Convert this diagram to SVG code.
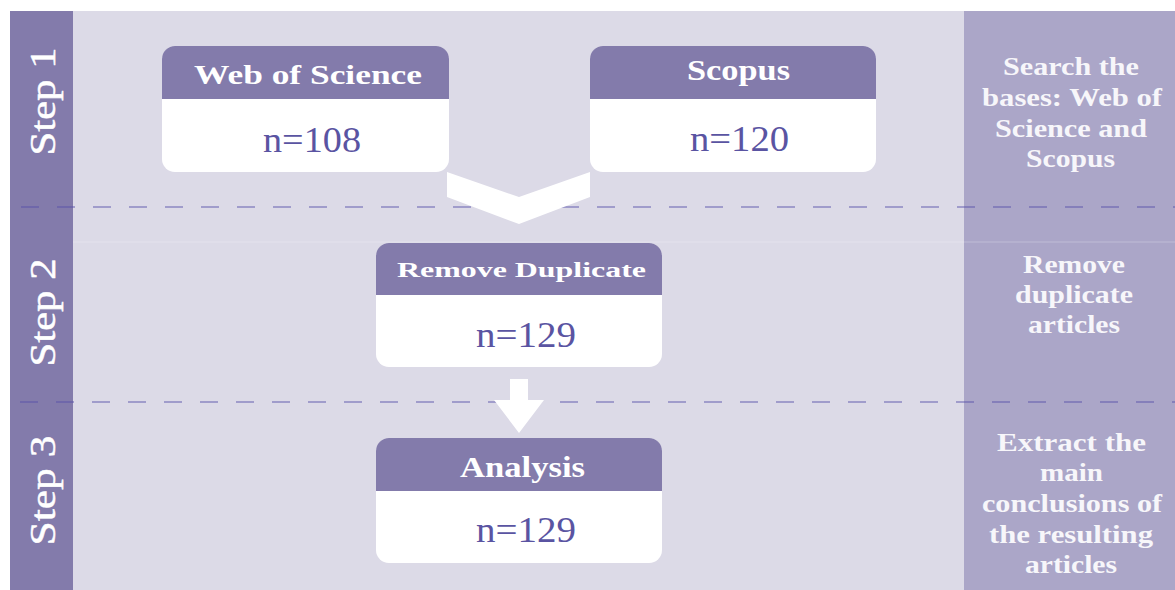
<svg xmlns="http://www.w3.org/2000/svg" width="1175" height="590" viewBox="0 0 1175 590">
<style>
.hdr{fill:#837BAB}
.body{fill:#ffffff}
.ht{font-family:"Liberation Serif",serif;font-weight:bold;fill:#ffffff;text-anchor:middle}
.nt{font-family:"Liberation Serif",serif;font-size:35px;fill:#5A54A2;text-anchor:middle}
.st{font-family:"Liberation Serif",serif;font-size:36px;fill:#ffffff;stroke:#ffffff;stroke-width:0.5;text-anchor:middle}
.rt{font-family:"Liberation Serif",serif;font-weight:bold;font-size:26px;fill:#F7F6FA;text-anchor:middle}
.dash{stroke:#5852AA;stroke-opacity:0.6;stroke-width:1.4;stroke-dasharray:18 18;fill:none}
.arr{fill:#ffffff}
</style>
<g id="background">
<rect x="10" y="11" width="1165" height="579" fill="#DCDAE7"/>
<rect x="10" y="11" width="63" height="579" fill="#837BAB"/>
<rect x="964" y="11" width="211" height="579" fill="#ABA6C8"/>
<line x1="73" y1="242" x2="1175" y2="242" stroke="#ffffff" stroke-opacity="0.25" stroke-width="1"/>
</g>
<g id="step-labels">
<text class="st" transform="translate(55,101.5) rotate(-90)" textLength="108" lengthAdjust="spacingAndGlyphs">Step 1</text>
<text class="st" transform="translate(55,312.5) rotate(-90)" textLength="108" lengthAdjust="spacingAndGlyphs">Step 2</text>
<text class="st" transform="translate(55,490.5) rotate(-90)" textLength="110" lengthAdjust="spacingAndGlyphs">Step 3</text>
</g>
<g id="dividers">
<line class="dash" x1="21" y1="207" x2="1175" y2="207"/>
<line class="dash" x1="20" y1="402" x2="1175" y2="402"/>
</g>
<g id="connectors">
<polygon class="arr" points="447,172 519,197 590,172 590,197 519,224 447,197"/>
<polygon class="arr" points="510,379 528,379 528,400 544,400 519,433 494,400 510,400"/>
</g>
<g id="node-wos">
<rect class="body" x="162" y="46" width="287" height="126" rx="13"/>
<path class="hdr" d="M162,99 V59 A13,13 0 0 1 175,46 H436 A13,13 0 0 1 449,59 V99 Z"/>
<text class="ht" x="308" y="84" font-size="28" textLength="228" lengthAdjust="spacingAndGlyphs">Web of Science</text>
<text class="nt" x="312" y="152" textLength="98" lengthAdjust="spacingAndGlyphs">n=108</text>
</g>
<g id="node-scopus">
<rect class="body" x="590" y="46" width="286" height="126" rx="13"/>
<path class="hdr" d="M590,99 V59 A13,13 0 0 1 603,46 H863 A13,13 0 0 1 876,59 V99 Z"/>
<text class="ht" x="738.5" y="80" font-size="30" textLength="103" lengthAdjust="spacingAndGlyphs">Scopus</text>
<text class="nt" x="739.5" y="151" textLength="99" lengthAdjust="spacingAndGlyphs">n=120</text>
</g>
<g id="node-remove">
<rect class="body" x="376" y="243" width="286" height="124" rx="13"/>
<path class="hdr" d="M376,295 V256 A13,13 0 0 1 389,243 H649 A13,13 0 0 1 662,256 V295 Z"/>
<text class="ht" x="521.5" y="277" font-size="22" textLength="249" lengthAdjust="spacingAndGlyphs">Remove Duplicate</text>
<text class="nt" x="526" y="347" textLength="100" lengthAdjust="spacingAndGlyphs">n=129</text>
</g>
<g id="node-analysis">
<rect class="body" x="376" y="438" width="286" height="125" rx="13"/>
<path class="hdr" d="M376,491 V451 A13,13 0 0 1 389,438 H649 A13,13 0 0 1 662,451 V491 Z"/>
<text class="ht" x="522.5" y="477" font-size="30" textLength="125" lengthAdjust="spacingAndGlyphs">Analysis</text>
<text class="nt" x="526" y="542" textLength="100" lengthAdjust="spacingAndGlyphs">n=129</text>
</g>
<g id="desc-1">
<text class="rt" x="1071" y="75" textLength="136" lengthAdjust="spacingAndGlyphs">Search the</text>
<text class="rt" x="1072" y="106" textLength="180" lengthAdjust="spacingAndGlyphs">bases: Web of</text>
<text class="rt" x="1071" y="137" textLength="152" lengthAdjust="spacingAndGlyphs">Science and</text>
<text class="rt" x="1070.5" y="167" textLength="89" lengthAdjust="spacingAndGlyphs">Scopus</text>
</g>
<g id="desc-2">
<text class="rt" x="1074" y="273" textLength="102" lengthAdjust="spacingAndGlyphs">Remove</text>
<text class="rt" x="1074" y="303" textLength="118" lengthAdjust="spacingAndGlyphs">duplicate</text>
<text class="rt" x="1074" y="333" textLength="92" lengthAdjust="spacingAndGlyphs">articles</text>
</g>
<g id="desc-3">
<text class="rt" x="1071.5" y="451" textLength="149" lengthAdjust="spacingAndGlyphs">Extract the</text>
<text class="rt" x="1071.5" y="481" textLength="63" lengthAdjust="spacingAndGlyphs">main</text>
<text class="rt" x="1072" y="512" textLength="180" lengthAdjust="spacingAndGlyphs">conclusions of</text>
<text class="rt" x="1071" y="543" textLength="164" lengthAdjust="spacingAndGlyphs">the resulting</text>
<text class="rt" x="1071" y="573" textLength="92" lengthAdjust="spacingAndGlyphs">articles</text>
</g>
</svg>
